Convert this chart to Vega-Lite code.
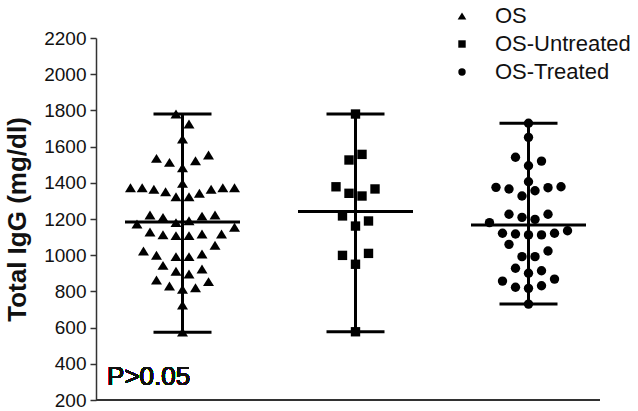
{
  "$schema": "https://vega.github.io/schema/vega-lite/v6.json",
  "width": 504,
  "height": 362,
  "autosize": {"type": "none"},
  "padding": {"left": 96, "top": 38, "right": 38, "bottom": 11},
  "config": {
    "font": "Liberation Sans",
    "view": {"stroke": null},
    "axisY": {
      "tickCount": 11,
      "labelOverlap": false,
      "labelFlush": false,
      "grid": false,
      "format": "d",
      "titleFontSize": 26,
      "titleFontWeight": "bold",
      "titleColor": "#111",
      "titlePadding": 13,
      "labelFontSize": 19,
      "labelColor": "#111",
      "labelPadding": 4,
      "tickSize": 6,
      "tickWidth": 1.5,
      "tickColor": "#333",
      "domainColor": "#333",
      "domainWidth": 1.5
    },
    "legend": {
      "orient": "none",
      "legendX": 355,
      "legendY": -33,
      "title": null,
      "labelFontSize": 22,
      "labelColor": "#111",
      "labelOffset": 22,
      "rowPadding": 6,
      "symbolSize": 55,
      "symbolFillColor": "black",
      "symbolStrokeColor": "black",
      "symbolStrokeWidth": 0,
      "padding": 0
    }
  },
  "data": {
    "values": [
      {"group": "OS", "igg": 1780, "jitter": -0.5},
      {"group": "OS", "igg": 1725, "jitter": 0.5},
      {"group": "OS", "igg": 1642, "jitter": 0},
      {"group": "OS", "igg": 1535, "jitter": -2.0},
      {"group": "OS", "igg": 1513, "jitter": -1.0},
      {"group": "OS", "igg": 1522, "jitter": 1.0},
      {"group": "OS", "igg": 1554, "jitter": 2.0},
      {"group": "OS", "igg": 1483, "jitter": 0},
      {"group": "OS", "igg": 1397, "jitter": 0},
      {"group": "OS", "igg": 1373, "jitter": -4.0},
      {"group": "OS", "igg": 1373, "jitter": -3.1},
      {"group": "OS", "igg": 1364, "jitter": -2.2},
      {"group": "OS", "igg": 1351, "jitter": -1.3},
      {"group": "OS", "igg": 1323, "jitter": -0.5},
      {"group": "OS", "igg": 1323, "jitter": 0.5},
      {"group": "OS", "igg": 1342, "jitter": 1.3},
      {"group": "OS", "igg": 1364, "jitter": 2.2},
      {"group": "OS", "igg": 1373, "jitter": 3.1},
      {"group": "OS", "igg": 1373, "jitter": 4.0},
      {"group": "OS", "igg": 1222, "jitter": -2.5},
      {"group": "OS", "igg": 1209, "jitter": -1.5},
      {"group": "OS", "igg": 1216, "jitter": 1.5},
      {"group": "OS", "igg": 1222, "jitter": 2.5},
      {"group": "OS", "igg": 1180, "jitter": -0.5},
      {"group": "OS", "igg": 1190, "jitter": 0.5},
      {"group": "OS", "igg": 1172, "jitter": -3.5},
      {"group": "OS", "igg": 1154, "jitter": 4.0},
      {"group": "OS", "igg": 1128, "jitter": -2.5},
      {"group": "OS", "igg": 1113, "jitter": -1.5},
      {"group": "OS", "igg": 1108, "jitter": -0.5},
      {"group": "OS", "igg": 1108, "jitter": 0.5},
      {"group": "OS", "igg": 1117, "jitter": 1.5},
      {"group": "OS", "igg": 1117, "jitter": 3.0},
      {"group": "OS", "igg": 1055, "jitter": 2.5},
      {"group": "OS", "igg": 1023, "jitter": -3.0},
      {"group": "OS", "igg": 1000, "jitter": -2.0},
      {"group": "OS", "igg": 992, "jitter": -0.5},
      {"group": "OS", "igg": 992, "jitter": 0.5},
      {"group": "OS", "igg": 1007, "jitter": 1.5},
      {"group": "OS", "igg": 944, "jitter": -1.5},
      {"group": "OS", "igg": 911, "jitter": -0.5},
      {"group": "OS", "igg": 896, "jitter": 0.5},
      {"group": "OS", "igg": 924, "jitter": 1.5},
      {"group": "OS", "igg": 863, "jitter": -2.0},
      {"group": "OS", "igg": 830, "jitter": -1.0},
      {"group": "OS", "igg": 812, "jitter": 0},
      {"group": "OS", "igg": 820, "jitter": 1.0},
      {"group": "OS", "igg": 854, "jitter": 2.0},
      {"group": "OS", "igg": 725, "jitter": 0},
      {"group": "OS", "igg": 575, "jitter": 0},
      {"group": "OS-Untreated", "igg": 1780, "jitter": 0},
      {"group": "OS-Untreated", "igg": 1557, "jitter": 0.5},
      {"group": "OS-Untreated", "igg": 1526, "jitter": -0.5},
      {"group": "OS-Untreated", "igg": 1378, "jitter": -1.5},
      {"group": "OS-Untreated", "igg": 1366, "jitter": 1.5},
      {"group": "OS-Untreated", "igg": 1342, "jitter": -0.5},
      {"group": "OS-Untreated", "igg": 1327, "jitter": 0.5},
      {"group": "OS-Untreated", "igg": 1217, "jitter": -1.0},
      {"group": "OS-Untreated", "igg": 1189, "jitter": 1.0},
      {"group": "OS-Untreated", "igg": 1161, "jitter": 0},
      {"group": "OS-Untreated", "igg": 999, "jitter": -1.0},
      {"group": "OS-Untreated", "igg": 1010, "jitter": 1.0},
      {"group": "OS-Untreated", "igg": 950, "jitter": 0},
      {"group": "OS-Untreated", "igg": 577, "jitter": 0},
      {"group": "OS-Treated", "igg": 1729, "jitter": 0},
      {"group": "OS-Treated", "igg": 1651, "jitter": 0},
      {"group": "OS-Treated", "igg": 1541, "jitter": -1.0},
      {"group": "OS-Treated", "igg": 1520, "jitter": 1.0},
      {"group": "OS-Treated", "igg": 1494, "jitter": 0},
      {"group": "OS-Treated", "igg": 1406, "jitter": 0},
      {"group": "OS-Treated", "igg": 1375, "jitter": -2.5},
      {"group": "OS-Treated", "igg": 1366, "jitter": -1.5},
      {"group": "OS-Treated", "igg": 1373, "jitter": 1.5},
      {"group": "OS-Treated", "igg": 1378, "jitter": 2.5},
      {"group": "OS-Treated", "igg": 1356, "jitter": 0.5},
      {"group": "OS-Treated", "igg": 1327, "jitter": -0.5},
      {"group": "OS-Treated", "igg": 1226, "jitter": -1.5},
      {"group": "OS-Treated", "igg": 1226, "jitter": 1.5},
      {"group": "OS-Treated", "igg": 1209, "jitter": -0.5},
      {"group": "OS-Treated", "igg": 1198, "jitter": 0.5},
      {"group": "OS-Treated", "igg": 1180, "jitter": -3.0},
      {"group": "OS-Treated", "igg": 1121, "jitter": -2.0},
      {"group": "OS-Treated", "igg": 1117, "jitter": -1.0},
      {"group": "OS-Treated", "igg": 1112, "jitter": 0},
      {"group": "OS-Treated", "igg": 1112, "jitter": 1.0},
      {"group": "OS-Treated", "igg": 1121, "jitter": 2.0},
      {"group": "OS-Treated", "igg": 1135, "jitter": 3.0},
      {"group": "OS-Treated", "igg": 1060, "jitter": -1.5},
      {"group": "OS-Treated", "igg": 992, "jitter": -0.5},
      {"group": "OS-Treated", "igg": 992, "jitter": 0.5},
      {"group": "OS-Treated", "igg": 1023, "jitter": 1.5},
      {"group": "OS-Treated", "igg": 928, "jitter": -1.0},
      {"group": "OS-Treated", "igg": 914, "jitter": 1.0},
      {"group": "OS-Treated", "igg": 900, "jitter": 0},
      {"group": "OS-Treated", "igg": 857, "jitter": -2.0},
      {"group": "OS-Treated", "igg": 868, "jitter": 2.0},
      {"group": "OS-Treated", "igg": 823, "jitter": -1.0},
      {"group": "OS-Treated", "igg": 817, "jitter": 0},
      {"group": "OS-Treated", "igg": 831, "jitter": 1.0},
      {"group": "OS-Treated", "igg": 730, "jitter": 0}
    ]
  },
  "encoding": {
    "x": {
      "field": "group",
      "type": "nominal",
      "sort": ["OS", "OS-Untreated", "OS-Treated"],
      "scale": {"domain": ["OS", "OS-Untreated", "OS-Treated"], "range": [0, 519], "paddingInner": 0, "paddingOuter": 0},
      "axis": null
    }
  },
  "layer": [
    {
      "mark": {"type": "rule", "color": "#333", "strokeWidth": 1.5},
      "encoding": {"x": null, "y": {"datum": 200, "type": "quantitative", "axis": {"values": [200, 400, 600, 800, 1000, 1200, 1400, 1600, 1800, 2000, 2200], "title": "Total IgG (mg/dl)"}}}
    },
    {
      "mark": {"type": "point", "filled": true, "color": "black", "opacity": 1, "size": 88},
      "encoding": {
        "xOffset": {"field": "jitter", "type": "quantitative", "scale": {"domain": [-6.65, 6.65]}},
        "y": {
          "field": "igg",
          "type": "quantitative",
          "scale": {"domain": [200, 2200], "nice": false, "zero": false},
          "axis": {"values": [200, 400, 600, 800, 1000, 1200, 1400, 1600, 1800, 2000, 2200], "title": "Total IgG (mg/dl)"}
        },
        "shape": {
          "field": "group",
          "type": "nominal",
          "sort": ["OS", "OS-Untreated", "OS-Treated"],
          "scale": {"domain": ["OS", "OS-Untreated", "OS-Treated"], "range": ["M-1.17,0.95L0,-0.95L1.17,0.95Z", "square", "circle"]}
        }
      }
    },
    {
      "transform": [{"aggregate": [{"op": "min", "field": "igg", "as": "lo"}, {"op": "max", "field": "igg", "as": "hi"}, {"op": "mean", "field": "igg", "as": "avg"}], "groupby": ["group"]}],
      "layer": [
        {
          "mark": {"type": "rule", "color": "black", "strokeWidth": 3},
          "encoding": {"y": {"field": "lo", "type": "quantitative", "axis": {"values": [200, 400, 600, 800, 1000, 1200, 1400, 1600, 1800, 2000, 2200], "title": "Total IgG (mg/dl)"}}, "y2": {"field": "hi"}}
        },
        {
          "mark": {"type": "tick", "color": "black", "thickness": 3, "size": 58, "opacity": 1},
          "encoding": {"y": {"field": "lo", "type": "quantitative", "axis": {"values": [200, 400, 600, 800, 1000, 1200, 1400, 1600, 1800, 2000, 2200], "title": "Total IgG (mg/dl)"}}}
        },
        {
          "mark": {"type": "tick", "color": "black", "thickness": 3, "size": 58, "opacity": 1},
          "encoding": {"y": {"field": "hi", "type": "quantitative", "axis": {"values": [200, 400, 600, 800, 1000, 1200, 1400, 1600, 1800, 2000, 2200], "title": "Total IgG (mg/dl)"}}}
        },
        {
          "mark": {"type": "tick", "color": "black", "thickness": 3, "size": 115, "opacity": 1},
          "encoding": {"y": {"field": "avg", "type": "quantitative", "axis": {"values": [200, 400, 600, 800, 1000, 1200, 1400, 1600, 1800, 2000, 2200], "title": "Total IgG (mg/dl)"}}}
        }
      ]
    },
    {
      "mark": {"type": "text", "align": "left", "baseline": "alphabetic", "fontSize": 26, "color": "#111"},
      "encoding": {
        "x": {"datum": "OS"},
        "xOffset": {"datum": -5.8, "type": "quantitative"},
        "y": {"datum": 283, "type": "quantitative", "axis": {"values": [200, 400, 600, 800, 1000, 1200, 1400, 1600, 1800, 2000, 2200], "title": "Total IgG (mg/dl)"}},
        "text": {"value": "P>0.05"}
      }
    }
  ]
}
